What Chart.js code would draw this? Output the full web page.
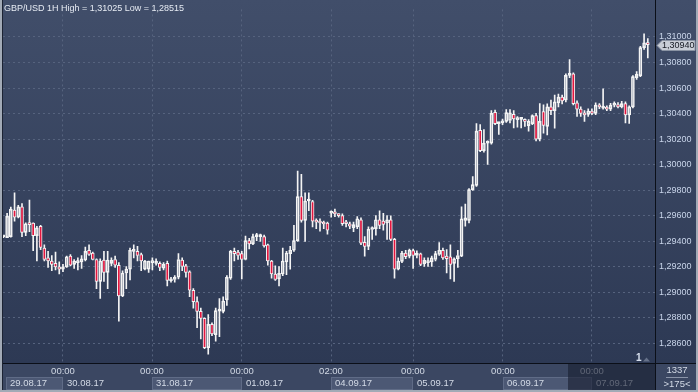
<!DOCTYPE html>
<html>
<head>
<meta charset="utf-8">
<title>GBP/USD 1H</title>
<script src="https://cdn.jsdelivr.net/npm/chart.js@4.4.1/dist/chart.umd.min.js"></script>
<style>
  html, body { margin: 0; padding: 0; background: #2d3954; }
  #wrap { width: 698px; height: 392px; }
</style>
</head>
<body>
<div id="wrap"><canvas id="chart" width="698" height="392"></canvas></div>
<script>
// Hourly candles, 29.08.17 -> 07.09.17 (index 0 = first visible candle)
const opens = [
  1.29434, 1.29428, 1.29436, 1.29644, 1.29589, 1.29669, 1.29469, 1.29537, 1.29543, 1.29444,
  1.29517, 1.29347, 1.29270, 1.29245, 1.29227, 1.29199, 1.29181, 1.29199, 1.29283, 1.29219,
  1.29232, 1.29238, 1.29253, 1.29329, 1.29308, 1.29257, 1.29085, 1.29253, 1.29156, 1.29227,
  1.29257, 1.29212, 1.28971, 1.29151, 1.29181, 1.29321, 1.29321, 1.29296, 1.29181, 1.29181,
  1.29232, 1.29227, 1.29227, 1.29189, 1.29227, 1.29090, 1.29100, 1.29118, 1.29253, 1.29207,
  1.29161, 1.29016, 1.28927, 1.28851, 1.28795, 1.28566, 1.28749, 1.28668, 1.28853, 1.28851,
  1.28940, 1.29110, 1.29321, 1.29314, 1.29303, 1.29257, 1.29405, 1.29379, 1.29436, 1.29436,
  1.29436, 1.29372, 1.29245, 1.29143, 1.29105, 1.29143, 1.29238, 1.29303, 1.29329, 1.29405,
  1.29749, 1.29563, 1.29715, 1.29711, 1.29558, 1.29550, 1.29543, 1.29543, 1.29619, 1.29631,
  1.29606, 1.29601, 1.29550, 1.29537, 1.29507, 1.29512, 1.29568, 1.29392, 1.29360, 1.29492,
  1.29499, 1.29568, 1.29558, 1.29543, 1.29568, 1.29415, 1.29181, 1.29242, 1.29308, 1.29283,
  1.29326, 1.29288, 1.29301, 1.29225, 1.29232, 1.29238, 1.29257, 1.29296, 1.29329, 1.29283,
  1.29278, 1.29227, 1.29263, 1.29283, 1.29563, 1.29563, 1.29804, 1.29837, 1.30268, 1.30110,
  1.30168, 1.30168, 1.30410, 1.30321, 1.30326, 1.30339, 1.30346, 1.30394, 1.30352, 1.30354,
  1.30352, 1.30306, 1.30321, 1.30384, 1.30199, 1.30415, 1.30300, 1.30453, 1.30423, 1.30484,
  1.30529, 1.30506, 1.30699, 1.30712, 1.30484, 1.30435, 1.30402, 1.30394, 1.30420, 1.30402,
  1.30466, 1.30443, 1.30445, 1.30435, 1.30466, 1.30471, 1.30453, 1.30478, 1.30390, 1.30453,
  1.30682, 1.30695, 1.30916, 1.30954
];
const highs = [
  1.29442, 1.29619, 1.29667, 1.29779, 1.29682, 1.29695, 1.29545, 1.29723, 1.29545, 1.29517,
  1.29524, 1.29372, 1.29321, 1.29288, 1.29314, 1.29238, 1.29219, 1.29283, 1.29296, 1.29257,
  1.29270, 1.29288, 1.29354, 1.29372, 1.29314, 1.29263, 1.29263, 1.29321, 1.29321, 1.29270,
  1.29283, 1.29232, 1.29169, 1.29202, 1.29347, 1.29372, 1.29360, 1.29308, 1.29250, 1.29245,
  1.29270, 1.29263, 1.29238, 1.29232, 1.29245, 1.29118, 1.29131, 1.29303, 1.29270, 1.29219,
  1.29169, 1.29029, 1.28965, 1.28876, 1.28800, 1.28826, 1.28761, 1.28876, 1.28950, 1.28965,
  1.29131, 1.29329, 1.29347, 1.29329, 1.29321, 1.29440, 1.29423, 1.29456, 1.29461, 1.29456,
  1.29448, 1.29377, 1.29250, 1.29207, 1.29202, 1.29347, 1.29321, 1.29360, 1.29524, 1.29949,
  1.29924, 1.29779, 1.29779, 1.29721, 1.29576, 1.29576, 1.29558, 1.29550, 1.29639, 1.29652,
  1.29614, 1.29614, 1.29563, 1.29550, 1.29550, 1.29593, 1.29583, 1.29436, 1.29512, 1.29512,
  1.29601, 1.29639, 1.29619, 1.29601, 1.29598, 1.29423, 1.29270, 1.29321, 1.29329, 1.29339,
  1.29339, 1.29324, 1.29308, 1.29270, 1.29270, 1.29283, 1.29321, 1.29390, 1.29347, 1.29334,
  1.29372, 1.29270, 1.29329, 1.29669, 1.29690, 1.29812, 1.29906, 1.30321, 1.30313, 1.30275,
  1.30186, 1.30423, 1.30428, 1.30331, 1.30356, 1.30432, 1.30432, 1.30423, 1.30377, 1.30364,
  1.30359, 1.30352, 1.30390, 1.30402, 1.30478, 1.30468, 1.30476, 1.30506, 1.30545, 1.30552,
  1.30545, 1.30712, 1.30822, 1.30720, 1.30499, 1.30453, 1.30423, 1.30438, 1.30438, 1.30484,
  1.30478, 1.30593, 1.30461, 1.30480, 1.30491, 1.30487, 1.30495, 1.30491, 1.30461, 1.30697,
  1.30728, 1.30926, 1.31025, 1.30987
];
const lows = [
  1.29427, 1.29428, 1.29431, 1.29558, 1.29583, 1.29436, 1.29444, 1.29474, 1.29326, 1.29245,
  1.29334, 1.29245, 1.29194, 1.29169, 1.29176, 1.29143, 1.29161, 1.29194, 1.29207, 1.29186,
  1.29176, 1.29186, 1.29245, 1.29288, 1.29253, 1.29029, 1.28952, 1.29085, 1.29029, 1.29207,
  1.29194, 1.28774, 1.28965, 1.29029, 1.29097, 1.29270, 1.29245, 1.29169, 1.29176, 1.29156,
  1.29176, 1.29212, 1.29169, 1.29176, 1.29049, 1.29080, 1.29080, 1.29105, 1.29169, 1.29118,
  1.28965, 1.28876, 1.28723, 1.28635, 1.28559, 1.28515, 1.28660, 1.28617, 1.28652, 1.28838,
  1.28897, 1.29100, 1.29245, 1.29257, 1.29105, 1.29253, 1.29339, 1.29372, 1.29405, 1.29398,
  1.29354, 1.29212, 1.29110, 1.29093, 1.29049, 1.29131, 1.29138, 1.29181, 1.29321, 1.29398,
  1.29550, 1.29398, 1.29639, 1.29512, 1.29499, 1.29479, 1.29499, 1.29456, 1.29589, 1.29593,
  1.29589, 1.29524, 1.29512, 1.29499, 1.29474, 1.29499, 1.29372, 1.29283, 1.29334, 1.29415,
  1.29448, 1.29499, 1.29486, 1.29415, 1.29405, 1.29110, 1.29176, 1.29232, 1.29263, 1.29270,
  1.29186, 1.29270, 1.29209, 1.29202, 1.29202, 1.29202, 1.29245, 1.29288, 1.29257, 1.29151,
  1.29105, 1.29085, 1.29194, 1.29278, 1.29517, 1.29543, 1.29797, 1.29830, 1.30102, 1.30097,
  1.30001, 1.30161, 1.30313, 1.30237, 1.30313, 1.30331, 1.30326, 1.30287, 1.30293, 1.30287,
  1.30300, 1.30262, 1.30313, 1.30186, 1.30186, 1.30247, 1.30232, 1.30392, 1.30285, 1.30453,
  1.30476, 1.30491, 1.30682, 1.30468, 1.30377, 1.30377, 1.30339, 1.30377, 1.30392, 1.30392,
  1.30438, 1.30435, 1.30423, 1.30423, 1.30453, 1.30445, 1.30445, 1.30326, 1.30323, 1.30445,
  1.30667, 1.30690, 1.30903, 1.30835
];
const closes = [
  1.29438, 1.29596, 1.29652, 1.29589, 1.29669, 1.29469, 1.29537, 1.29530, 1.29444, 1.29505,
  1.29352, 1.29257, 1.29245, 1.29219, 1.29199, 1.29181, 1.29199, 1.29278, 1.29212, 1.29245,
  1.29245, 1.29263, 1.29321, 1.29296, 1.29257, 1.29085, 1.29245, 1.29156, 1.29253, 1.29250,
  1.29212, 1.28971, 1.29151, 1.29181, 1.29329, 1.29329, 1.29288, 1.29245, 1.29245, 1.29245,
  1.29245, 1.29245, 1.29194, 1.29219, 1.29093, 1.29105, 1.29118, 1.29257, 1.29202, 1.29156,
  1.29016, 1.28927, 1.28851, 1.28795, 1.28566, 1.28749, 1.28673, 1.28856, 1.28856, 1.28932,
  1.29118, 1.29321, 1.29303, 1.29288, 1.29257, 1.29405, 1.29379, 1.29436, 1.29444, 1.29440,
  1.29364, 1.29245, 1.29143, 1.29100, 1.29148, 1.29245, 1.29308, 1.29329, 1.29405, 1.29749,
  1.29563, 1.29715, 1.29718, 1.29558, 1.29550, 1.29543, 1.29535, 1.29486, 1.29634, 1.29614,
  1.29601, 1.29537, 1.29537, 1.29517, 1.29530, 1.29576, 1.29385, 1.29360, 1.29494, 1.29505,
  1.29568, 1.29524, 1.29532, 1.29568, 1.29415, 1.29181, 1.29245, 1.29308, 1.29278, 1.29329,
  1.29288, 1.29308, 1.29219, 1.29250, 1.29245, 1.29270, 1.29303, 1.29329, 1.29270, 1.29263,
  1.29219, 1.29263, 1.29288, 1.29576, 1.29583, 1.29804, 1.29843, 1.30262, 1.30110, 1.30168,
  1.30173, 1.30402, 1.30321, 1.30323, 1.30344, 1.30407, 1.30405, 1.30359, 1.30364, 1.30359,
  1.30339, 1.30339, 1.30384, 1.30199, 1.30339, 1.30308, 1.30453, 1.30423, 1.30491, 1.30529,
  1.30499, 1.30699, 1.30707, 1.30478, 1.30435, 1.30402, 1.30390, 1.30420, 1.30402, 1.30466,
  1.30453, 1.30445, 1.30435, 1.30466, 1.30478, 1.30453, 1.30478, 1.30390, 1.30453, 1.30690,
  1.30707, 1.30916, 1.30954, 1.30940
];

// Axis labels
const gridIdx = [16, 40, 64, 88, 110, 134, 158];
const timeLabels = ["00:00", "00:00", "00:00", "02:00", "00:00", "00:00", "00:00"];
const dateLabels = ["29.08.17", "30.08.17", "31.08.17", "01.09.17", "04.09.17", "05.09.17", "06.09.17", "07.09.17"];
const yTicks = [1.286, 1.288, 1.290, 1.292, 1.294, 1.296, 1.298, 1.300, 1.302, 1.304, 1.306, 1.308, 1.310];
const titleText = "GBP/USD 1H High = 1,31025 Low = 1,28515";

const FAMILY = '"Liberation Sans", Arial, sans-serif';
const FONT = "9px " + FAMILY;
const AXIS_FONT = "9.5px " + FAMILY;
const fmt = v => v.toFixed(5).replace(".", ",");

// datasets built from the OHLC arrays
const bodies = opens.map((o, i) => ({ x: i, y: [o, closes[i]] }));
const upperWicks = opens.map((o, i) => ({ x: i, y: [Math.max(o, closes[i]), highs[i]] }));
const lowerWicks = opens.map((o, i) => ({ x: i, y: [lows[i], Math.min(o, closes[i])] }));
const bodyFill = opens.map((o, i) => closes[i] >= o ? "rgba(0,0,0,0)" : "#e3163f");

// background, bottom band and all extra text
const frame = {
    id: "frame",
    beforeDraw(chart) {
        const { ctx, width, height, chartArea: a } = chart;
        ctx.save();
        let g = ctx.createLinearGradient(0, 0, 0, a.bottom);
        g.addColorStop(0, "#414e6a");
        g.addColorStop(1, "#2d3954");
        ctx.fillStyle = g;
        ctx.fillRect(0, 0, width, a.bottom);
        ctx.fillStyle = "#3b4762";
        ctx.fillRect(0, a.bottom, width, height - a.bottom);
        ctx.restore();
    },
    afterDraw(chart) {
        const { ctx, width, height, chartArea: a } = chart;
        const xs = chart.scales.x, ys = chart.scales.y;
        const gx = gridIdx.map(v => Math.round(xs.getPixelForValue(v)));
        ctx.save();
        ctx.font = AXIS_FONT;
        ctx.textBaseline = "middle";

        // date cells
        for (let i = 0; i < dateLabels.length; i++) {
            const x0 = i === 0 ? a.left + 3 : gx[i - 1];
            const x1 = i < gx.length ? gx[i] : a.right;
            if (i % 2 === 0) {
                ctx.fillStyle = "#4c5874";
                ctx.fillRect(x0, 377, x1 - x0, 13);
                ctx.strokeStyle = "#5f6b86";
                ctx.strokeRect(x0 + 0.5, 377.5, x1 - x0 - 1, 12);
            }
            ctx.fillStyle = "#d3dae6";
            ctx.textAlign = "left";
            ctx.fillText(dateLabels[i], x0 + 4, 383.5);
        }
        ctx.textAlign = "center";
        timeLabels.forEach((t, i) => ctx.fillText(t, gx[i], 371.5));

        // dimmed last-day strip
        const sx = Math.round(xs.getPixelForValue(151.6));
        ctx.fillStyle = "rgba(24, 31, 49, 0.62)";
        ctx.fillRect(sx, a.bottom + 1, a.right - sx, height - a.bottom - 3);

        // bottom right counter
        ctx.fillStyle = "#d3dae6";
        ctx.fillText("1337", 677, 370.5);
        ctx.fillText(">175<", 677, 384.5);
        ctx.strokeStyle = "#8a94a8";
        ctx.beginPath();
        ctx.moveTo(666, 377.5);
        ctx.lineTo(688, 377.5);
        ctx.stroke();

        // black separators
        ctx.strokeStyle = "#0b0f18";
        ctx.beginPath();
        ctx.moveTo(0, a.bottom + 0.5);
        ctx.lineTo(width, a.bottom + 0.5);
        ctx.moveTo(a.right + 0.5, 0);
        ctx.lineTo(a.right + 0.5, height);
        ctx.stroke();

        // last price tag
        const last = closes[closes.length - 1];
        const ty = Math.round(ys.getPixelForValue(last)) + 0.5;
        ctx.beginPath();
        ctx.moveTo(a.right + 2, ty);
        ctx.lineTo(a.right + 7, ty - 5);
        ctx.lineTo(width - 3, ty - 5);
        ctx.lineTo(width - 3, ty + 5);
        ctx.lineTo(a.right + 7, ty + 5);
        ctx.closePath();
        ctx.fillStyle = "#c8cdd6";
        ctx.fill();
        ctx.strokeStyle = "#8a93a3";
        ctx.stroke();
        ctx.font = FONT;
        ctx.fillStyle = "#141821";
        ctx.textAlign = "left";
        ctx.fillText(fmt(last), a.right + 7, ty);

        // "1" marker
        ctx.font = "bold 10px " + FAMILY;
        ctx.fillStyle = "#d8e0ee";
        ctx.fillText("1", 636, 358);
        ctx.fillStyle = "#66728a";
        ctx.beginPath();
        ctx.moveTo(643, 361.5);
        ctx.lineTo(650, 361.5);
        ctx.lineTo(646.5, 357.5);
        ctx.closePath();
        ctx.fill();

        // title
        ctx.font = FONT;
        ctx.fillStyle = "#e6ebf3";
        ctx.fillText(titleText, 4, 9);

        // outer frame
        ctx.fillStyle = "#a2aab6";
        ctx.fillRect(0, 0, 2, height);
        ctx.fillRect(0, height - 2, width, 2);
        ctx.fillRect(width - 2, 0, 2, height);
        ctx.fillStyle = "#1c2333";
        ctx.fillRect(2, 0, 1, height - 2);
        ctx.restore();
    }
};

let ctx = document.getElementById("chart").getContext("2d");
let chart = new Chart(ctx, {
    type: "bar",
    data: {
        datasets: [
            {
                label: "body",
                data: bodies,
                order: 0,
                grouped: false,
                barThickness: 3,
                minBarLength: 2,
                borderWidth: 1,
                borderSkipped: false,
                borderColor: "#f4f4f4",
                backgroundColor: bodyFill
            },
            {
                label: "upper",
                data: upperWicks,
                order: 1,
                grouped: false,
                barThickness: 1,
                borderWidth: 0,
                backgroundColor: "#f4f4f4"
            },
            {
                label: "lower",
                data: lowerWicks,
                order: 1,
                grouped: false,
                barThickness: 1,
                borderWidth: 0,
                backgroundColor: "#f4f4f4"
            }
        ]
    },
    options: {
        responsive: false,
        animation: false,
        events: [],
        layout: { padding: { left: 3, right: 0, top: 0, bottom: 0 } },
        plugins: { legend: { display: false }, tooltip: { enabled: false } },
        scales: {
            x: {
                type: "linear",
                min: -0.1,
                max: 174.93,
                offset: false,
                afterFit: s => { s.height = 29; },
                afterBuildTicks: s => { s.ticks = gridIdx.map(v => ({ value: v })); },
                ticks: { display: false },
                grid: { offset: false, color: "#56637e", drawTicks: false },
                border: { display: true, color: "#0b0f18", dash: [2, 3] }
            },
            y: {
                position: "right",
                min: 1.28446,
                max: 1.31216,
                afterFit: s => { s.width = 43; },
                afterBuildTicks: s => { s.ticks = yTicks.map(v => ({ value: v })); },
                ticks: {
                    padding: 4,
                    color: "#c9d5ea",
                    font: { family: FAMILY, size: 9 },
                    callback: v => fmt(v)
                },
                grid: { color: "#56637e", drawTicks: false },
                border: { display: true, color: "#0b0f18", dash: [2, 3] }
            }
        }
    },
    plugins: [frame]
});
</script>
</body>
</html>
